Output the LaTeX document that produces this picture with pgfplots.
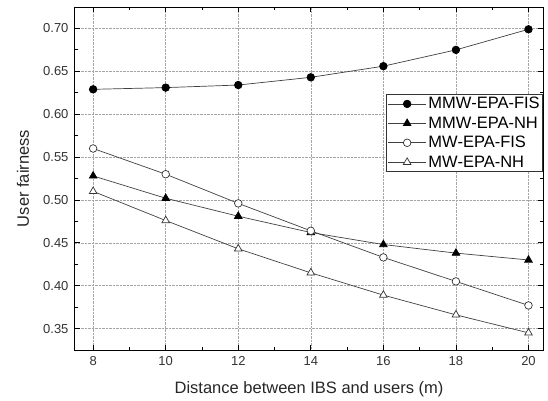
\documentclass[border=0pt]{standalone}
\usepackage{fontspec}
\setmainfont{Liberation Sans}
\usepackage{pgfplots}
\pgfplotsset{compat=1.18}

\begin{document}
\begin{tikzpicture}
\begin{axis}[
    at={(0,0)}, anchor=south west,
    scale only axis,
    width=468pt,
    height=343pt,
    xmin=7.5, xmax=20.4,
    ymin=0.325, ymax=0.725,
    xtick={8,10,...,20},
    ytick={0.35,0.40,...,0.70},
    minor xtick={9,11,...,19},
    minor ytick={0.325,0.375,...,0.725},
    /pgf/number format/assume math mode=true,
    tick align=inside,
    major tick length=5pt,
    minor tick length=3pt,
    grid=major,
    major grid style={densely dotted, gray!70},
    axis line style={line width=1pt},
    tick style={black, line width=0.8pt},
    ticklabel style={font=\fontsize{13}{15}\selectfont, text=black!80},
    yticklabel style={xshift=-3pt, /pgf/number format/.cd, fixed, fixed zerofill, precision=2},
    xticklabel style={yshift=-3pt},
    xlabel={Distance between IBS and users (m)},
    ylabel={User fairness},
    label style={font=\fontsize{16.5}{19}\selectfont, text=black!85},
    xlabel style={at={(axis description cs:0.5,-0.114)}, anchor=center},
    ylabel style={at={(axis description cs:-0.111,0.5)}, anchor=center},
    legend style={at={(1,0.746)}, anchor=north east, draw=black!80, line width=0.6pt,
        font=\fontsize{16.5}{19}\selectfont, row sep=2.5pt, inner sep=1pt,
        /tikz/every even column/.append style={column sep=2pt}},
    legend image code/.code={%
        \draw[mark repeat=2, mark phase=2] plot coordinates {(0pt,0pt) (19pt,0pt) (38pt,0pt)};},
    legend cell align=left,
    every axis plot/.append style={line width=0.7pt, black!75, mark size=3.8pt},
]
\addplot[mark=*, mark options={fill=black, draw=black}] coordinates {
    (8,0.629) (10,0.631) (12,0.634) (14,0.643) (16,0.656) (18,0.675) (20,0.699)
};
\addlegendentry{MMW-EPA-FIS}
\addplot[mark=triangle*, mark size=4.4pt, mark options={fill=black, draw=black}] coordinates {
    (8,0.528) (10,0.502) (12,0.481) (14,0.462) (16,0.448) (18,0.438) (20,0.430)
};
\addlegendentry{MMW-EPA-NH}
\addplot[mark=*, mark options={fill=white, draw=black!80}] coordinates {
    (8,0.560) (10,0.530) (12,0.496) (14,0.464) (16,0.433) (18,0.405) (20,0.377)
};
\addlegendentry{MW-EPA-FIS}
\addplot[mark=triangle*, mark size=4.4pt, mark options={fill=white, draw=black!80}] coordinates {
    (8,0.510) (10,0.476) (12,0.443) (14,0.415) (16,0.389) (18,0.366) (20,0.345)
};
\addlegendentry{MW-EPA-NH}
\end{axis}
\pgfresetboundingbox
\useasboundingbox (-75pt,-50pt) rectangle (473pt,350pt);
\end{tikzpicture}
\end{document}
